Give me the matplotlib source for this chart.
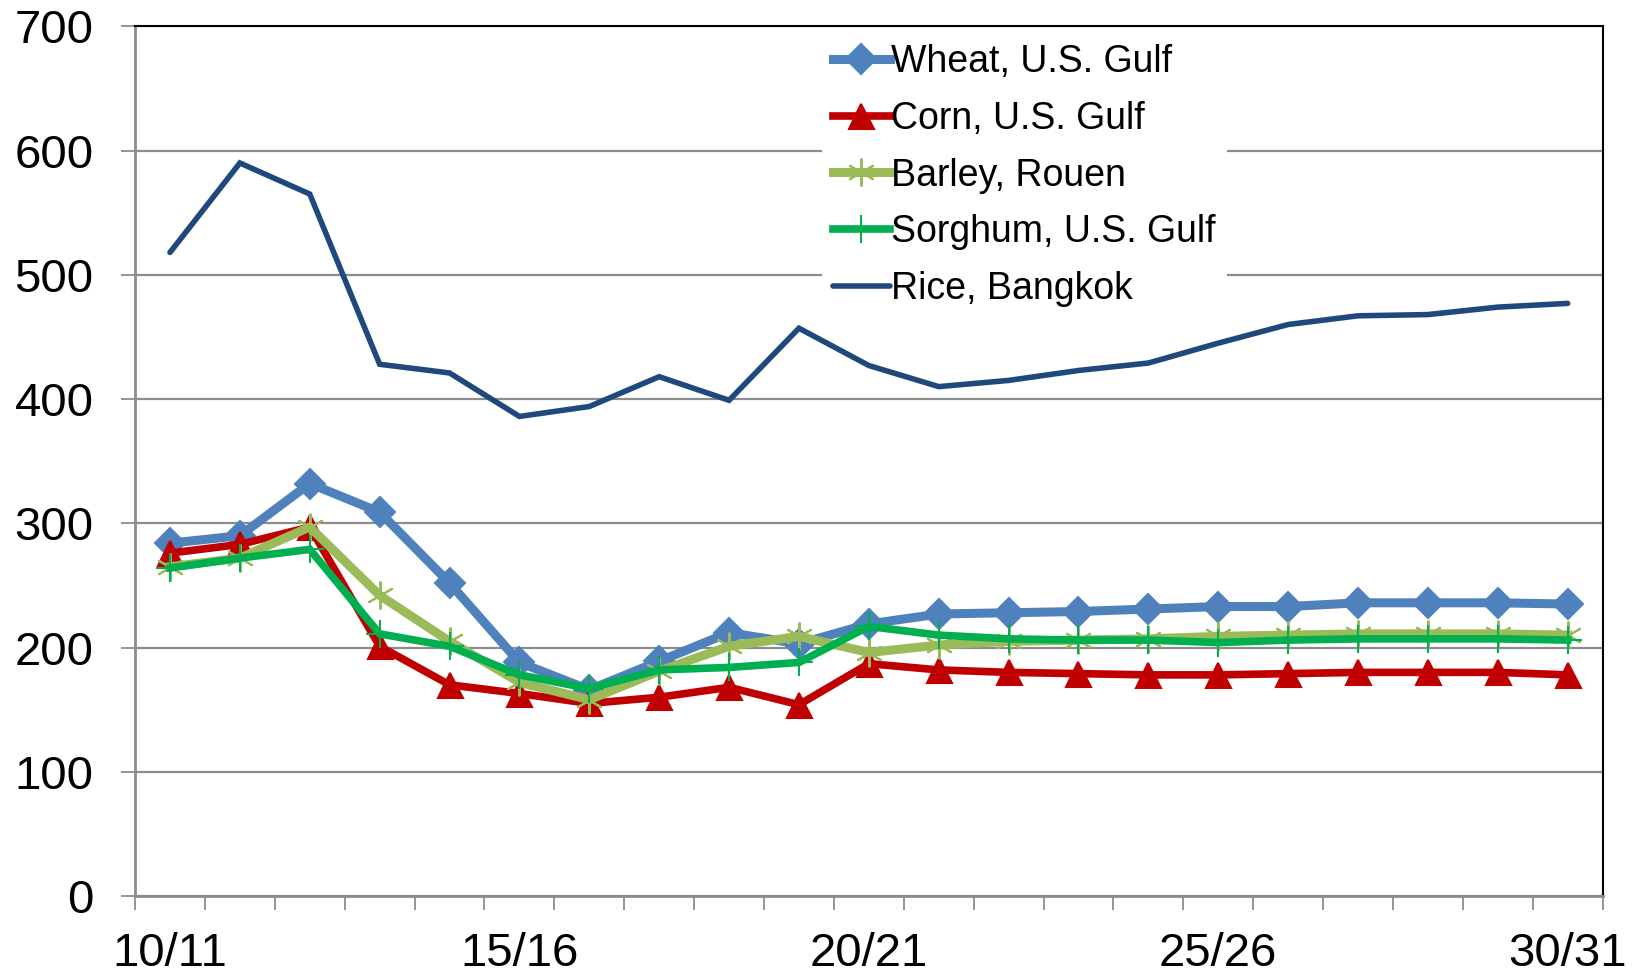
import numpy as np
import matplotlib.pyplot as plt

plt.rcParams['font.family'] = ['Liberation Sans', 'DejaVu Sans']

# Marktjahre
seasons = ['10/11', '11/12', '12/13', '13/14', '14/15', '15/16', '16/17', '17/18',
           '18/19', '19/20', '20/21', '21/22', '22/23', '23/24', '24/25', '25/26',
           '26/27', '27/28', '28/29', '29/30', '30/31']

# Preise (USD/t)
wheat = [284, 290, 332, 309, 252, 188, 166, 189, 212, 203, 219, 227, 228, 229, 231, 233,
         233, 236, 236, 236, 235]
corn = [276, 283, 297, 201, 170, 163, 155, 160, 168, 154, 187, 182, 180, 179, 178, 178,
        179, 180, 180, 180, 178]
barley = [265, 272, 297, 242, 205, 172, 158, 181, 201, 209, 196, 202, 205, 206, 207, 209,
          210, 211, 211, 211, 210]
sorghum = [264, 272, 279, 211, 201, 178, 167, 182, 184, 188, 217, 210, 207, 206, 206, 204,
           206, 207, 207, 207, 206]
rice = [518, 590, 565, 428, 421, 386, 394, 418, 399, 457, 427, 410, 415, 423, 429, 445,
        460, 467, 468, 474, 477]

series = [
    ('Wheat, U.S. Gulf', wheat, '#4F81BD', 'D', 15, 6.5),
    ('Corn, U.S. Gulf', corn, '#C00000', '^', 18, 5.5),
    ('Barley, Rouen', barley, '#9BBB59', (6, 2, 0), 20, 6.5),
    ('Sorghum, U.S. Gulf', sorghum, '#00B050', '+', 20, 5.5),
    ('Rice, Bangkok', rice, '#1F497D', None, 0, 4.0),
]

fig = plt.figure(figsize=(16.37, 9.75), dpi=100)
ax = fig.add_axes([0.0825, 0.081, 0.8965, 0.892])

x = np.arange(len(seasons))
for name, vals, col, mk, ms, lw in series:
    if mk is None:
        ax.plot(x, vals, color=col, lw=lw, label=name, solid_capstyle='round',
                solid_joinstyle='miter')
    else:
        ax.plot(x, vals, color=col, lw=lw, marker=mk, markersize=ms,
                markerfacecolor=col, markeredgecolor=col, markeredgewidth=1.5,
                label=name, solid_joinstyle='miter')

ax.set_xlim(-0.5, len(seasons) - 0.5)
ax.set_ylim(0, 700)
ax.set_yticks(np.arange(0, 701, 100))
ax.grid(axis='y', color='#8c8c8c', lw=1.6)
ax.set_axisbelow(True)

# Kategorien-Achse: Striche zwischen den Kategorien, Beschriftung alle 5 Jahre
ax.set_xticks(x[::5])
ax.set_xticklabels(seasons[::5])
ax.set_xticks(np.arange(-0.5, len(seasons)), minor=True)
ax.tick_params(axis='x', which='major', length=0, pad=26, labelsize=34)
ax.tick_params(axis='x', which='minor', length=10, width=1.3, color='#8c8c8c')
ax.tick_params(axis='y', length=10, width=1.3, color='#8c8c8c', pad=20, labelsize=34)

for s in ['left', 'bottom']:
    ax.spines[s].set_color('#8c8c8c')
    ax.spines[s].set_linewidth(2)
for s in ['top', 'right']:
    ax.spines[s].set_color('black')
    ax.spines[s].set_linewidth(1.5)

leg = ax.legend(loc='upper left', bbox_to_anchor=(822 / 1637, 1 - 33 / 975),
                bbox_transform=fig.transFigure, fontsize=27, frameon=True,
                fancybox=False, edgecolor='none', framealpha=1,
                handlelength=1.5, handletextpad=0.05, labelspacing=0.55,
                borderpad=0.3, borderaxespad=0)

plt.savefig('out.png', dpi=100)
